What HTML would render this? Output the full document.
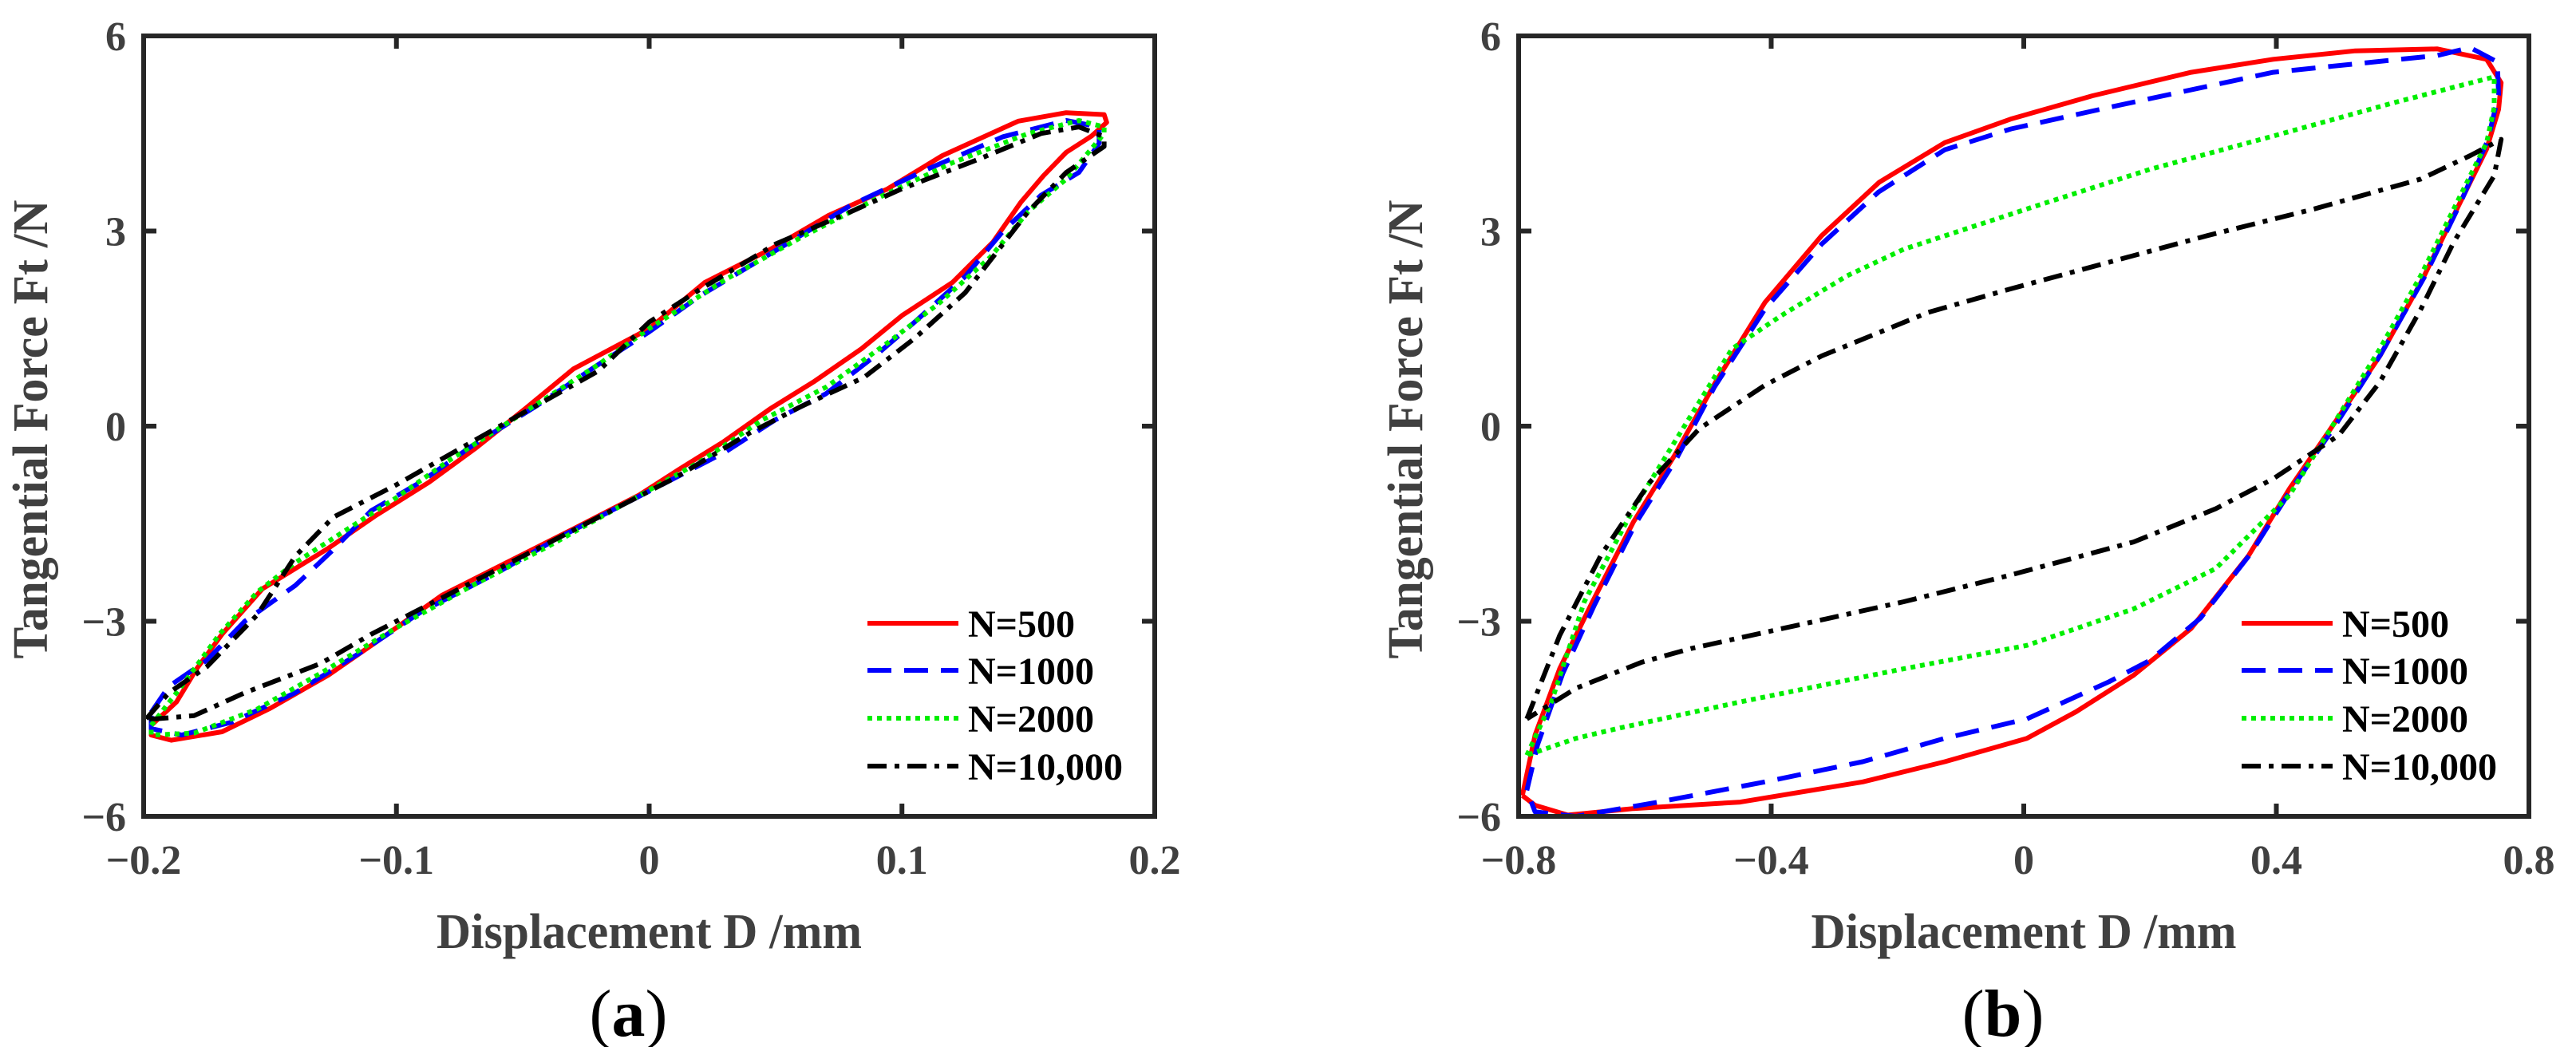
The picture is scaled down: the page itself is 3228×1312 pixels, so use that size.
<!DOCTYPE html>
<html><head><meta charset="utf-8"><style>
html,body{margin:0;padding:0;background:#fff}
svg{display:block}
text{font-family:"Liberation Serif",serif}
</style></head><body>
<svg id="fig" width="3228" height="1312" viewBox="0 0 3228 1312" xmlns="http://www.w3.org/2000/svg"></svg>
<script>
const seriesNames=["N=500","N=1000","N=2000","N=10,000"];
const xTicksA=[-0.2,-0.1,0,0.1,0.2];
const xTickLabelsA=["\u22120.2","\u22120.1","0","0.1","0.2"];
const xTicksB=[-0.8,-0.4,0,0.4,0.8];
const xTickLabelsB=["\u22120.8","\u22120.4","0","0.4","0.8"];
const yTicks=[-6,-3,0,3,6];
const yTickLabels=["\u22126","\u22123","0","3","6"];
const a500=[[-0.197,-4.6],[-0.187,-4.24],[-0.179,-3.73],[-0.169,-3.2],[-0.153,-2.5],[-0.127,-1.88],[-0.108,-1.37],[-0.087,-0.86],[-0.069,-0.35],[-0.049,0.27],[-0.03,0.88],[0,1.5],[0.022,2.21],[0.048,2.72],[0.071,3.24],[0.094,3.64],[0.116,4.16],[0.146,4.69],[0.165,4.82],[0.18,4.79],[0.181,4.67],[0.175,4.46],[0.165,4.21],[0.156,3.85],[0.147,3.44],[0.136,2.83],[0.12,2.21],[0.1,1.7],[0.084,1.19],[0.065,0.68],[0.048,0.27],[0.029,-0.25],[0.012,-0.66],[-0.004,-1.06],[-0.03,-1.58],[-0.056,-2.09],[-0.082,-2.6],[-0.108,-3.32],[-0.127,-3.83],[-0.15,-4.34],[-0.169,-4.7],[-0.189,-4.83],[-0.197,-4.75],[-0.197,-4.6]];
const a1000=[[-0.197,-4.4],[-0.19,-4.0],[-0.175,-3.6],[-0.16,-3.0],[-0.14,-2.45],[-0.125,-1.9],[-0.11,-1.3],[-0.09,-0.85],[-0.07,-0.3],[-0.045,0.3],[-0.02,0.95],[0,1.45],[0.02,2.0],[0.05,2.7],[0.08,3.4],[0.11,3.95],[0.14,4.45],[0.165,4.7],[0.178,4.6],[0.178,4.35],[0.17,3.9],[0.155,3.55],[0.14,3.0],[0.125,2.3],[0.105,1.6],[0.09,1.1],[0.07,0.5],[0.05,0.1],[0.03,-0.4],[0.01,-0.8],[-0.01,-1.2],[-0.035,-1.7],[-0.06,-2.25],[-0.09,-2.85],[-0.115,-3.5],[-0.14,-4.1],[-0.165,-4.55],[-0.185,-4.75],[-0.197,-4.65],[-0.197,-4.4]];
const a2000=[[-0.197,-4.6],[-0.185,-4.0],[-0.17,-3.2],[-0.155,-2.55],[-0.14,-2.1],[-0.12,-1.6],[-0.1,-1.1],[-0.08,-0.55],[-0.05,0.2],[-0.02,0.95],[0,1.5],[0.03,2.25],[0.06,2.9],[0.09,3.5],[0.12,4.05],[0.15,4.5],[0.17,4.7],[0.18,4.6],[0.18,4.5],[0.165,3.8],[0.15,3.3],[0.135,2.6],[0.115,1.9],[0.095,1.3],[0.07,0.6],[0.045,0.1],[0.02,-0.55],[-0.01,-1.2],[-0.04,-1.85],[-0.07,-2.45],[-0.1,-3.1],[-0.13,-3.8],[-0.155,-4.35],[-0.18,-4.72],[-0.197,-4.75],[-0.197,-4.6]];
const a10000=[[-0.199,-4.5],[-0.19,-4.1],[-0.175,-3.7],[-0.155,-2.9],[-0.14,-2.0],[-0.125,-1.4],[-0.1,-0.9],[-0.075,-0.35],[-0.05,0.2],[-0.02,0.85],[0,1.6],[0.02,2.1],[0.05,2.8],[0.08,3.3],[0.1,3.65],[0.13,4.1],[0.155,4.5],[0.17,4.6],[0.18,4.45],[0.18,4.3],[0.165,3.9],[0.15,3.3],[0.125,2.05],[0.105,1.35],[0.085,0.75],[0.06,0.3],[0.04,-0.1],[0.01,-0.8],[-0.02,-1.4],[-0.05,-2.0],[-0.08,-2.6],[-0.11,-3.2],[-0.13,-3.65],[-0.16,-4.1],[-0.18,-4.45],[-0.195,-4.5],[-0.199,-4.5]];
const b500=[[-0.794,-5.68],[-0.774,-4.75],[-0.735,-3.73],[-0.683,-2.7],[-0.618,-1.47],[-0.553,-0.45],[-0.488,0.68],[-0.41,1.9],[-0.32,2.93],[-0.229,3.75],[-0.125,4.36],[-0.021,4.72],[0.109,5.08],[0.265,5.44],[0.395,5.64],[0.525,5.77],[0.655,5.8],[0.733,5.64],[0.756,5.28],[0.752,4.87],[0.733,4.26],[0.681,3.24],[0.629,2.21],[0.564,1.08],[0.486,-0.04],[0.421,-0.96],[0.356,-1.99],[0.265,-3.11],[0.174,-3.83],[0.083,-4.39],[0.005,-4.8],[-0.125,-5.16],[-0.255,-5.47],[-0.449,-5.78],[-0.618,-5.88],[-0.722,-5.98],[-0.774,-5.83],[-0.794,-5.68]];
const b1000=[[-0.787,-5.6],[-0.77,-4.9],[-0.73,-3.8],[-0.68,-2.75],[-0.615,-1.5],[-0.55,-0.5],[-0.49,0.6],[-0.41,1.8],[-0.32,2.8],[-0.23,3.6],[-0.125,4.25],[-0.02,4.57],[0.135,4.9],[0.395,5.44],[0.655,5.7],[0.707,5.82],[0.75,5.6],[0.752,5.1],[0.735,4.4],[0.69,3.4],[0.635,2.3],[0.565,1.1],[0.49,-0.04],[0.425,-0.95],[0.36,-1.95],[0.28,-2.95],[0.2,-3.6],[0.135,-3.93],[0.005,-4.5],[-0.125,-4.8],[-0.255,-5.16],[-0.41,-5.47],[-0.579,-5.78],[-0.709,-6.0],[-0.774,-5.93],[-0.787,-5.6]];
const b2000=[[-0.787,-5.06],[-0.748,-4.24],[-0.696,-2.7],[-0.618,-1.27],[-0.54,-0.04],[-0.462,1.19],[-0.384,1.7],[-0.28,2.31],[-0.19,2.72],[0.005,3.34],[0.2,3.95],[0.395,4.46],[0.589,4.98],[0.745,5.37],[0.745,4.9],[0.733,4.36],[0.681,3.34],[0.629,2.32],[0.564,1.19],[0.486,-0.04],[0.421,-1.06],[0.304,-2.19],[0.174,-2.81],[0.005,-3.37],[-0.19,-3.73],[-0.449,-4.24],[-0.644,-4.65],[-0.709,-4.8],[-0.787,-5.06]];
const b10000=[[-0.787,-4.5],[-0.735,-3.22],[-0.67,-1.99],[-0.592,-0.86],[-0.514,-0.04],[-0.41,0.63],[-0.32,1.08],[-0.151,1.75],[-0.021,2.11],[0.135,2.52],[0.291,2.93],[0.46,3.34],[0.629,3.8],[0.707,4.16],[0.756,4.41],[0.745,3.85],[0.681,2.83],[0.629,1.8],[0.564,0.68],[0.499,-0.14],[0.395,-0.81],[0.304,-1.27],[0.174,-1.78],[-0.021,-2.29],[-0.19,-2.7],[-0.358,-3.06],[-0.527,-3.42],[-0.605,-3.63],[-0.709,-4.03],[-0.787,-4.5]];

const NS="http://www.w3.org/2000/svg";
const svg=document.getElementById('fig');
function el(tag,attrs,parent){const e=document.createElementNS(NS,tag);for(const k in attrs)e.setAttribute(k,attrs[k]);(parent||svg).appendChild(e);return e;}
const styles=[
 {stroke:"#ff0000",dash:"none"},
 {stroke:"#0000ff",dash:"30 16"},
 {stroke:"#00ee00",dash:"6 6"},
 {stroke:"#000000",dash:"24 10 6 10"}];

function panel(id,x0,x1,xmin,xmax,xt,xtl,data,legX,labelLetter){
 const y0=45,y1=1023;
 const X=v=>x0+(v-xmin)/(xmax-xmin)*(x1-x0);
 const Y=v=>y1-(v+6)/12*(y1-y0);
 const g=el('g',{});
 
 
 const clip=el('clipPath',{id:'clip'+id},g);
 el('rect',{x:x0,y:y0,width:x1-x0,height:y1-y0},clip);
 const plot=el('g',{'clip-path':'url(#clip'+id+')'},g);
 data.forEach((d,i)=>{
  const p=el('polyline',{points:d.map(q=>X(q[0]).toFixed(1)+','+Y(q[1]).toFixed(1)).join(' '),fill:'none',stroke:styles[i].stroke,'stroke-width':6,'stroke-dasharray':styles[i].dash,'stroke-linejoin':'round'},plot);
  
  
 });
 const box=el('rect',{x:x0,y:y0,width:x1-x0,height:y1-y0,fill:'none',stroke:'#262626','stroke-width':6},g);
 
 
 xt.forEach((v,i)=>{
  const x=X(v);
  el('line',{x1:x,x2:x,y1:y1,y2:y1-16,stroke:'#262626','stroke-width':6},g);
  el('line',{x1:x,x2:x,y1:y0,y2:y0+16,stroke:'#262626','stroke-width':6},g);
  const t=el('text',{x:x,y:1095,'text-anchor':'middle','font-size':52,'font-weight':'bold',fill:'#404040'},g);
  t.textContent=xtl[i];
  
  
 });
 yTicks.forEach((v,i)=>{
  const y=Y(v);
  el('line',{x1:x0,x2:x0+16,y1:y,y2:y,stroke:'#262626','stroke-width':6},g);
  el('line',{x1:x1,x2:x1-16,y1:y,y2:y,stroke:'#262626','stroke-width':6},g);
  const t=el('text',{x:x0-22,y:y+18,'text-anchor':'end','font-size':52,'font-weight':'bold',fill:'#404040'},g);
  t.textContent=yTickLabels[i];
  
  
 });
 const cx=(x0+x1)/2;
 const xt2=el('text',{x:cx,y:1188,'text-anchor':'middle','font-size':62,'font-weight':'bold',fill:'#404040',textLength:533,lengthAdjust:'spacingAndGlyphs'},g);
 xt2.textContent='Displacement D /mm';
 
 
 const yx=x0-121;
 const yt=el('text',{x:0,y:0,transform:'translate('+yx+',538) rotate(-90)','text-anchor':'middle','font-size':62,'font-weight':'bold',fill:'#404040',textLength:575,lengthAdjust:'spacingAndGlyphs'},g);
 yt.textContent='Tangential Force Ft /N';
 
 
 const rows=[781,840,900,960];
 seriesNames.forEach((n,i)=>{
  const lg=el('g',{},g);
  
  
  el('line',{x1:legX,x2:legX+114,y1:rows[i],y2:rows[i],stroke:styles[i].stroke,'stroke-width':6,'stroke-dasharray':styles[i].dash},lg);
  const t=el('text',{x:legX+126,y:rows[i]+17,'font-size':48,'font-weight':'bold',fill:'#000'},lg);
  t.textContent=n;
 });
 const cap=el('text',{x:cx-26,y:1298,'text-anchor':'middle','font-size':84,fill:'#000'},g);
 
 
 cap.innerHTML='(<tspan font-weight="bold">'+labelLetter+'</tspan>)';
}
panel('a',180,1447,-0.2,0.2,xTicksA,xTickLabelsA,[a500,a1000,a2000,a10000],1087,'a');
panel('b',1903,3169,-0.8,0.8,xTicksB,xTickLabelsB,[b500,b1000,b2000,b10000],2809,'b');
</script>
</body></html>
